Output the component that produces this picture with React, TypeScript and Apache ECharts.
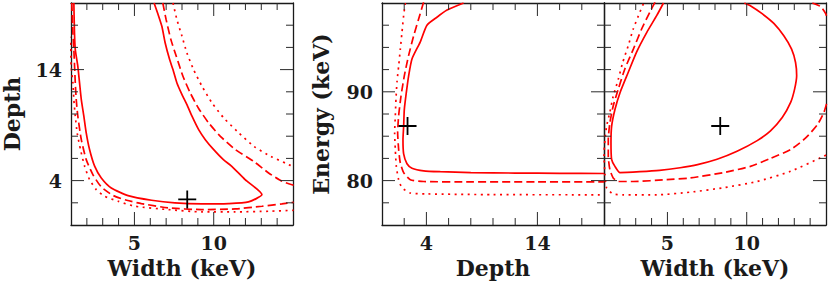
import React, { useEffect, useRef } from "react";
import * as echarts from "echarts";

// ---- tick labels ----
const widthTicks = [5, 10];
const depthTicks = [4, 14];
const energyTicks = [80, 90];

// ---- best-fit point ----
const bestWidth = 8.33;
const bestDepth = 2.3;
const bestEnergy = 86.15;

// ---- Panel 1: Width (keV) vs Depth ----
const wdSolid: number[][] = [[1.18,20],[1.22,17.3],[1.27,15.8],[1.43,14.3],[1.54,12.8],[1.65,11.3],[1.81,9.8],[1.96,8.3],[2.17,6.8],[2.49,5.3],[2.91,4.24],[3.54,3.34],[4.6,2.65],[6.08,2.23],[7.55,1.99],[9.24,1.9],[10.93,1.93],[12.19,2.08],[13.04,2.74],[11.98,4.09],[11.14,5.29],[10.61,5.89],[10.0,6.79],[9.47,7.69],[9.05,8.59],[8.63,9.8],[8.31,10.85],[8.0,11.75],[7.68,12.8],[7.43,14.0],[7.22,14.9],[6.94,16.4],[6.73,17.9],[6.46,19.1],[6.24,20]];
const wdDashedLow: number[][] = [[1.05,20],[1.12,17.3],[1.18,15.8],[1.27,12.8],[1.33,11.3],[1.43,9.8],[1.65,7.69],[1.96,5.89],[2.38,4.54],[2.91,3.43],[3.67,2.65],[4.51,2.23],[5.44,1.93],[7.13,1.54],[9.24,1.39],[11.35,1.45],[13.04,1.69],[14.3,1.9],[15.04,2.05]];
const wdDashedHigh: number[][] = [[6.79,20],[7.0,18.5],[7.3,16.7],[7.64,15.2],[8.06,13.4],[8.52,11.9],[9.05,10.5],[9.68,9.2],[10.42,7.99],[11.37,6.79],[12.51,5.74],[13.46,4.69],[14.3,3.94],[15.04,3.58]];
const wdDottedLow: number[][] = [[0.9,17],[0.98,16.2],[1.01,14.3],[1.12,12.8],[1.18,11.3],[1.27,9.8],[1.39,8.29],[1.6,6.79],[1.86,5.29],[2.17,4.09],[2.59,3.19],[3.12,2.59],[3.97,2.14],[5.02,1.69],[7.13,1.39],[9.24,1.18],[11.35,1.18],[13.46,1.24],[15.04,1.33]];
const wdDottedHigh: number[][] = [[7.43,20],[7.68,18.5],[8.0,17.0],[8.31,15.5],[8.73,14.0],[9.26,12.5],[9.89,11.0],[10.63,9.65],[11.48,8.44],[12.53,7.09],[13.59,6.19],[14.64,5.5],[15.04,5.23]];

// ---- Panel 2: Depth vs Energy (keV) ----
const deSolid: number[][] = [[7.35,100],[5.86,99.2],[4.95,98.4],[4.05,97.5],[3.44,95.6],[2.7,93.7],[2.4,91.8],[2.19,89.9],[2.01,88.0],[1.95,86.1],[1.89,84.6],[1.95,83.0],[2.25,81.9],[2.7,81.4],[3.75,81.1],[5.25,81.0],[8,80.9],[12,80.85],[16,80.82],[20,80.8]];
const deDashed: number[][] = [[3.75,100.1],[3.3,98.2],[2.85,96.3],[2.4,94.1],[2.01,91.8],[1.71,89.5],[1.5,87.3],[1.41,85.4],[1.5,83.5],[1.65,82.0],[1.95,80.9],[2.55,80.1],[3.75,79.9],[8,79.85],[14,79.85],[20,79.85]];
const deDotted: number[][] = [[2.1,100],[1.95,98.6],[1.8,96.7],[1.65,94.8],[1.5,92.9],[1.35,91.1],[1.26,89.2],[1.2,87.3],[1.14,85.4],[1.2,83.5],[1.29,81.6],[1.5,80.1],[1.8,79.2],[2.55,78.6],[4.05,78.5],[10,78.42],[20,78.4]];

// ---- Panel 3: Width (keV) vs Energy (keV) ----
const weSolid: number[][] = [[4.75,100],[4.33,98.6],[3.7,96.7],[3.06,94.5],[2.53,92.2],[2.01,89.9],[1.69,88.0],[1.48,86.1],[1.44,84.3],[1.48,82.4],[1.69,81.6],[2.01,80.9],[3.27,81.0],[4.5,81.15],[5.8,81.45],[6.9,81.8],[8.13,82.4],[9.39,83.3],[10.66,84.5],[11.5,85.6],[12.24,87.1],[12.77,88.8],[13.02,90.3],[13.15,91.8],[13.08,93.3],[12.83,94.8],[12.34,96.3],[11.71,97.7],[10.97,98.8],[10.23,99.7],[9.85,100]];
const weDashedMain: number[][] = [[4.22,100.1],[3.9,99.0],[3.38,97.1],[2.85,94.8],[2.32,92.6],[1.9,90.3],[1.58,88.4],[1.37,86.5],[1.27,84.6],[1.27,82.75],[1.37,81.25],[1.58,80.3],[1.9,79.9],[2.85,79.9],[4.96,80.1],[6.44,80.3],[8.54,80.9],[10.23,81.6],[11.5,82.5],[12.77,83.5],[13.72,84.8],[14.46,86.3],[14.87,87.7],[15.09,89.0]];
const weDashedCorner: number[][] = [[14.14,100],[14.66,99.6],[14.98,98.8],[15.09,98.2]];
const weDotted: number[][] = [[3.48,99.9],[3.27,99.0],[2.85,97.1],[2.53,95.2],[2.18,93.3],[1.9,91.4],[1.58,89.5],[1.37,87.7],[1.16,86.1],[1.06,84.6],[1.0,82.9],[1.06,80.7],[1.16,79.2],[1.56,78.5],[2.22,78.4],[4.33,78.4],[6.44,78.7],[8.54,79.2],[10.66,79.9],[12.77,81.05],[14.87,82.75],[15.1,83.0]];

const RED = "#ff0000";
const INK = "#1a1a1a";
const TICK = "#2a2a2a";
const FONT = "DejaVu Serif";

const grids = [
  { left: 71, top: 3, width: 222, height: 222 },
  { left: 382, top: 3, width: 222, height: 222 },
  { left: 604, top: 3, width: 222, height: 222 },
];

type Spec = { min: number; max: number; interval: number; major: number[]; labels: boolean; name?: string; nameGap?: number };

const widthAxis = (name?: string): Spec => ({ min: 1, max: 15, interval: 1, major: widthTicks, labels: true, name, nameGap: 29 });
const depthX: Spec = { min: 0, max: 20, interval: 2, major: depthTicks, labels: true, name: "Depth", nameGap: 29 };
const depthY: Spec = { min: 0, max: 20, interval: 2, major: depthTicks, labels: true, name: "Depth", nameGap: 48 };
const energyY: Spec = { min: 75, max: 100, interval: 2.5, major: energyTicks, labels: true, name: "Energy (keV)", nameGap: 50 };
const energyYNoLabel: Spec = { min: 75, max: 100, interval: 2.5, major: energyTicks, labels: false };

const panels: { x: Spec; y: Spec }[] = [
  { x: widthAxis("Width (keV)"), y: depthY },
  { x: depthX, y: energyY },
  { x: widthAxis("Width (keV)"), y: energyYNoLabel },
];

function makeAxes(dim: "x" | "y", gridIndex: number, s: Spec) {
  const main = dim === "x" ? "bottom" : "left";
  const opp = dim === "x" ? "top" : "right";
  const base = () => ({ type: "value", gridIndex, min: s.min, max: s.max, interval: s.interval, splitLine: { show: false }, axisTick: { show: false } });
  return [
    {
      ...base(),
      position: main,
      axisLine: { show: true, onZero: false, lineStyle: { color: INK, width: 1.3 } },
      axisLabel: {
        show: s.labels,
        customValues: s.major.slice(),
        margin: dim === "x" ? 8 : 9,
        fontFamily: FONT,
        fontWeight: "bold",
        fontSize: 19,
        color: INK,
      },
      name: s.name,
      nameLocation: "middle",
      nameGap: s.nameGap,
      nameTextStyle: { fontFamily: FONT, fontWeight: "bold", fontSize: 22, color: INK },
    },
    {
      ...base(),
      position: opp,
      axisLine: { show: true, onZero: false, lineStyle: { color: INK, width: 1.3 } },
      axisLabel: { show: false },
    },
  ];
}

// tick marks on all four sides, placed through the axes' own scales
function tickValues(s: Spec): number[][] {
  const out: number[][] = [];
  const n = Math.round((s.max - s.min) / s.interval);
  for (let i = 1; i < n; i++) {
    const v = s.min + i * s.interval;
    const isMajor = s.major.some((m) => Math.abs(m - v) < 1e-6);
    out.push([v, isMajor ? 13 : 7]);
  }
  return out;
}

function tickSeries(g: number) {
  const p = panels[g];
  const data: number[][] = [
    ...tickValues(p.x).map(([v, len]) => [v, 0, len]),
    ...tickValues(p.y).map(([v, len]) => [v, 1, len]),
  ];
  return {
    type: "custom",
    coordinateSystem: "cartesian2d",
    xAxisIndex: g * 2,
    yAxisIndex: g * 2,
    data,
    encode: { x: 0, y: 1 },
    silent: true,
    clip: false,
    z: 4,
    renderItem: (params: any, api: any) => {
      const cs = params.coordSys;
      const v = api.value(0);
      const kind = api.value(1);
      const len = api.value(2);
      if (kind === 0) {
        const px = api.coord([v, p.y.min])[0];
        const yb = cs.y + cs.height;
        const yt = cs.y;
        return {
          type: "group",
          children: [
            { type: "rect", shape: { x: px - 0.5, y: yb - len, width: 1, height: len }, style: { fill: TICK } },
            { type: "rect", shape: { x: px - 0.5, y: yt, width: 1, height: len }, style: { fill: TICK } },
          ],
        };
      }
      const py = api.coord([p.x.min, v])[1];
      const xl = cs.x;
      const xr = cs.x + cs.width;
      return {
        type: "group",
        children: [
          { type: "rect", shape: { x: xl, y: py - 0.5, width: len, height: 1 }, style: { fill: TICK } },
          { type: "rect", shape: { x: xr - len, y: py - 0.5, width: len, height: 1 }, style: { fill: TICK } },
        ],
      };
    },
  };
}

function contour(data: number[][], g: number, kind: "solid" | "dashed" | "dotted") {
  const type = kind === "solid" ? "solid" : kind === "dashed" ? [8, 4] : [2, 4.5];
  return {
    type: "line",
    xAxisIndex: g * 2,
    yAxisIndex: g * 2,
    data,
    showSymbol: false,
    symbol: "none",
    smooth: 0.2,
    clip: true,
    silent: true,
    lineStyle: { color: RED, width: 1.7, type },
    z: 3,
  };
}

const PLUS = "path://M0,8.1H18V9.9H0Z M8.1,0H9.9V18H8.1Z";

function cross(x: number, y: number, g: number) {
  return {
    type: "scatter",
    xAxisIndex: g * 2,
    yAxisIndex: g * 2,
    data: [[x, y]],
    symbol: PLUS,
    symbolSize: 18,
    itemStyle: { color: "#000000", opacity: 1 },
    silent: true,
    z: 5,
  };
}

export default function App() {
  const ref = useRef<HTMLDivElement>(null);
  useEffect(() => {
    if (!ref.current) return;
    const chart = echarts.init(ref.current, undefined, { renderer: "svg" });
    const xAxis = panels.flatMap((p, g) => makeAxes("x", g, p.x));
    const yAxis = panels.flatMap((p, g) => makeAxes("y", g, p.y));
    const series = [
      tickSeries(0),
      tickSeries(1),
      tickSeries(2),
      contour(wdSolid, 0, "solid"),
      contour(wdDashedLow, 0, "dashed"),
      contour(wdDashedHigh, 0, "dashed"),
      contour(wdDottedLow, 0, "dotted"),
      contour(wdDottedHigh, 0, "dotted"),
      cross(bestWidth, bestDepth, 0),
      contour(deSolid, 1, "solid"),
      contour(deDashed, 1, "dashed"),
      contour(deDotted, 1, "dotted"),
      cross(bestDepth, bestEnergy, 1),
      contour(weSolid, 2, "solid"),
      contour(weDashedMain, 2, "dashed"),
      contour(weDashedCorner, 2, "dashed"),
      contour(weDotted, 2, "dotted"),
      cross(bestWidth, bestEnergy, 2),
    ];
    chart.setOption({
      animation: false,
      grid: grids,
      xAxis,
      yAxis,
      series,
    } as any);
    return () => chart.dispose();
  }, []);
  return <div ref={ref} style={{ position: "absolute", left: 0, top: 0, width: 830, height: 286 }} />;
}
